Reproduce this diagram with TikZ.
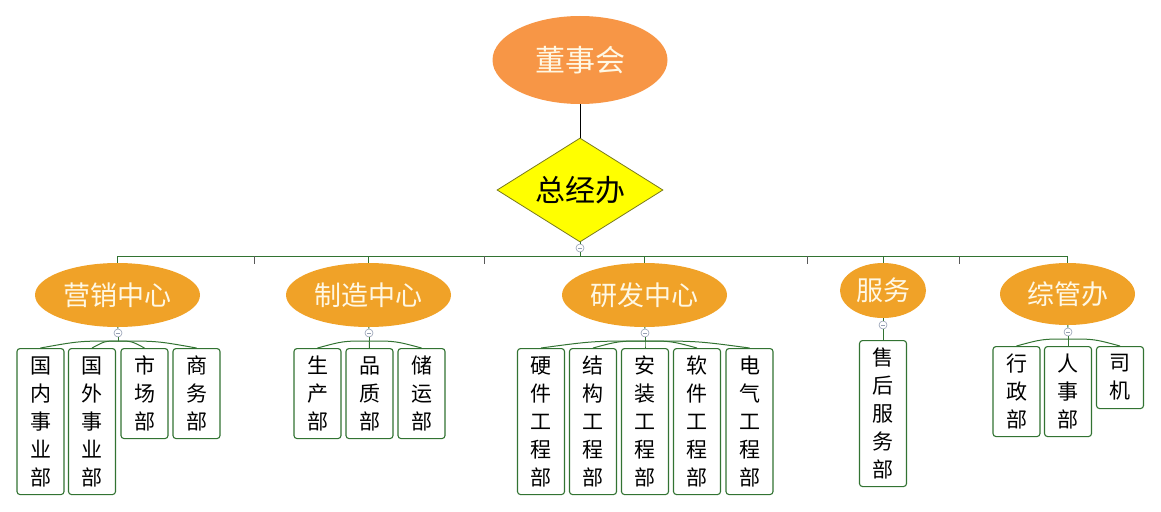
\documentclass[tikz,border=0pt]{standalone}
\usepackage{fontspec}
\usepackage{tikz}
\usetikzlibrary{shapes.geometric}
\usetikzlibrary{calc}
\newfontfamily\cjk{Noto Sans CJK SC}
\definecolor{boardorange}{RGB}{247,150,70}
\definecolor{unitorange}{RGB}{240,162,40}
\definecolor{cream}{RGB}{255,248,228}
\definecolor{gmyellow}{RGB}{255,255,0}
\definecolor{gmborder}{RGB}{120,120,30}
\definecolor{linegreen}{RGB}{50,115,50}
\definecolor{foldgray}{RGB}{150,160,180}
\tikzstyle{board} = [ellipse, fill=boardorange, minimum width=175, minimum height=88, inner sep=0, text=cream, font=\cjk\fontsize{30}{36}\selectfont]
\tikzstyle{gm} = [diamond, fill=gmyellow, draw=gmborder, line width=0.8, minimum width=166, minimum height=104, aspect=1.6, inner sep=0, font=\cjk\fontsize{30}{36}\selectfont]
\tikzstyle{unit} = [ellipse, fill=unitorange, minimum width=165, minimum height=64, inner sep=0, text=cream, font=\cjk\fontsize{27}{32}\selectfont]
\tikzstyle{dept} = [rectangle, rounded corners=3, draw=linegreen, line width=1.1, fill=white, minimum width=47, inner sep=0, anchor=north, align=center, font=\cjk\fontsize{21}{28}\selectfont]
\tikzstyle{dept2} = [dept, minimum height=62]
\tikzstyle{dept3} = [dept, minimum height=90]
\tikzstyle{dept5} = [dept, minimum height=146]
\tikzstyle{fold} = [circle, draw=foldgray, fill=white, minimum size=8, inner sep=0, line width=0.6,
  path picture={\draw[foldgray, line width=0.6] ([xshift=-2]path picture bounding box.center) -- ([xshift=2]path picture bounding box.center);}]
\tikzstyle{link} = [draw=linegreen, line width=1]
\tikzstyle{tick} = [draw=gray!70!black, line width=1]

\begin{document}
\begin{tikzpicture}[x=1pt, y=-1pt]
\useasboundingbox (0, 0) rectangle (1161, 511);

% Board and general manager office
\node[board] (n0) at (580, 60) {董事会};
\node[gm] (n1) at (580, 190) {总经办};
\node[fold] (f0) at (580, 248) {};
\coordinate (bus) at (580, 256);
% Bus ticks
\coordinate (t1) at (254, 256);
\coordinate (t2) at (484, 256);
\coordinate (t3) at (807, 256);
\coordinate (t4) at (959, 256);

% Centres
\node[unit] (c1) at (117.5, 295) {营销中心};
\node[unit] (c2) at (368.5, 295) {制造中心};
\node[unit] (c3) at (644.5, 295) {研发中心};
\node[unit, minimum width=86, minimum height=55] (c4) at (883, 290.5) {服务};
\node[unit, minimum width=135, minimum height=62] (c5) at (1067.5, 294) {综管办};
% Folds and hubs under the centres
\node[fold] (f1) at (118, 333) {};
\node[fold] (f2) at (369, 333) {};
\node[fold] (f3) at (645, 333) {};
\node[fold] (f4) at (883, 325) {};
\node[fold] (f5) at (1068, 332) {};
\coordinate (h1) at (118, 341);
\coordinate (h2) at (369, 341);
\coordinate (h3) at (645, 341);
\coordinate (h5) at (1068, 339);

% Departments, centre 1
\node[dept5] (d11) at (40.5, 348) {国\\内\\事\\业\\部};
\node[dept5] (d12) at (92, 348) {国\\外\\事\\业\\部};
\node[dept3] (d13) at (144.5, 348) {市\\场\\部};
\node[dept3] (d14) at (196.5, 348) {商\\务\\部};
% Departments, centre 2
\node[dept3] (d21) at (317.5, 348) {生\\产\\部};
\node[dept3] (d22) at (369.5, 348) {品\\质\\部};
\node[dept3] (d23) at (421.5, 348) {储\\运\\部};
% Departments, centre 3
\node[dept5] (d31) at (541, 348) {硬\\件\\工\\程\\部};
\node[dept5] (d32) at (593, 348) {结\\构\\工\\程\\部};
\node[dept5] (d33) at (645, 348) {安\\装\\工\\程\\部};
\node[dept5] (d34) at (697, 348) {软\\件\\工\\程\\部};
\node[dept5] (d35) at (749.5, 348) {电\\气\\工\\程\\部};
% Departments, centre 4
\node[dept5] (d41) at (883, 340) {售\\后\\服\\务\\部};
% Departments, centre 5
\node[dept3] (d51) at (1016.5, 346) {行\\政\\部};
\node[dept3] (d52) at (1068, 346) {人\\事\\部};
\node[dept2] (d53) at (1120, 346) {司\\机};

% CONNECTORS
\draw[line width=1] (n0) -- (n1);
\draw[link] (n1) -- (f0);
\draw[link] (f0) -- (bus);
\draw[link] (c1.north |- bus) -- (c5.north |- bus);
\foreach \c in {c1, c2, c3, c4, c5}
  \draw[link] (\c.north |- bus) -- (\c.north);
\foreach \t in {t1, t2, t3, t4}
  \draw[tick] (\t) -- ++(0, 8);
% centre to fold to hub
\foreach \c/\f/\h in {c1/f1/h1, c2/f2/h2, c3/f3/h3, c5/f5/h5} {
  \draw[link] (\c) -- (\f);
  \draw[link] (\f) -- (\h);
}
\draw[link] (c4) -- (f4);
\draw[link] (f4) -- (d41);
% hub to departments
\foreach \d in {d11, d12, d13, d14}
  \draw[link] (h1) .. controls ($(h1)!0.5!(\d.north |- h1)$) .. (\d.north);
\foreach \d in {d21, d22, d23}
  \draw[link] (h2) .. controls ($(h2)!0.5!(\d.north |- h2)$) .. (\d.north);
\foreach \d in {d31, d32, d33, d34, d35}
  \draw[link] (h3) .. controls ($(h3)!0.5!(\d.north |- h3)$) .. (\d.north);
\foreach \d in {d51, d52, d53}
  \draw[link] (h5) .. controls ($(h5)!0.5!(\d.north |- h5)$) .. (\d.north);
\end{tikzpicture}
\end{document}
